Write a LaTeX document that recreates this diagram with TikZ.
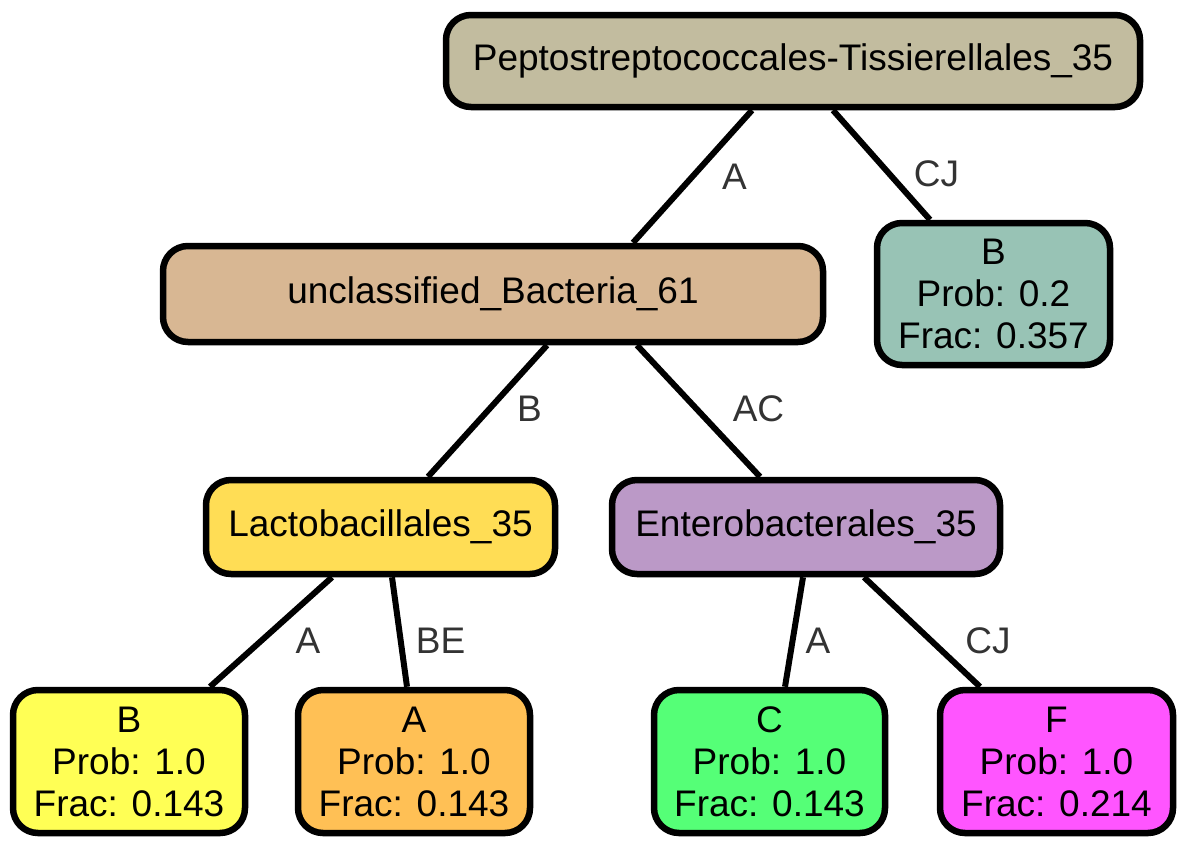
\documentclass[tikz,border=0pt]{standalone}
\usepackage{fontspec}
\setmainfont{Liberation Sans}
\usetikzlibrary{positioning}

\definecolor{rootfill}{HTML}{C2BC9F}
\definecolor{uncfill}{HTML}{D8B793}
\definecolor{cjfill}{HTML}{98C3B5}
\definecolor{lactofill}{HTML}{FFDD55}
\definecolor{enterofill}{HTML}{BB99C7}
\definecolor{bfill}{HTML}{FFFF55}
\definecolor{afill}{HTML}{FFC055}
\definecolor{cfill}{HTML}{55FF77}
\definecolor{ffill}{HTML}{FF55FF}
\definecolor{lblgray}{HTML}{333333}

\begin{document}
\begin{tikzpicture}[
    x=1pt, y=-1pt,
    font=\fontsize{37}{42}\selectfont,
    taxon/.style={rectangle, rounded corners=25pt, draw=black, line width=6.5pt, inner sep=0pt, minimum height=94pt, align=center},
    leaf/.style={rectangle, rounded corners=25pt, draw=black, line width=6.5pt, inner sep=0pt, minimum width=232pt, minimum height=143pt, align=center},
    edge/.style={line width=6pt},
    lbl/.style={text=lblgray, inner sep=0pt}
]
\useasboundingbox (0,0) rectangle (1186,846);

% Nodes
\node[taxon, fill=rootfill, minimum width=694pt, minimum height=92pt] (root) at (793,61) {Peptostreptococcales-Tissierellales\_35};
\node[taxon, fill=uncfill, minimum width=660pt, minimum height=96pt] (unclassified) at (493,294) {unclassified\_Bacteria\_61};
\node[leaf, fill=cjfill, minimum width=233pt, minimum height=142pt] (leafcj) at (993.5,294) {B\\Prob: 0.2\\Frac: 0.357};

\node[taxon, fill=lactofill, minimum width=349pt] (lacto) at (380.5,527) {Lactobacillales\_35};
\node[taxon, fill=enterofill, minimum width=388pt] (entero) at (806,527) {Enterobacterales\_35};

\node[leaf, fill=bfill] (leafb) at (129,761.5) {B\\Prob: 1.0\\Frac: 0.143};
\node[leaf, fill=afill] (leafa) at (414,761.5) {A\\Prob: 1.0\\Frac: 0.143};
\node[leaf, fill=cfill, minimum width=231pt] (leafc) at (769.5,761.5) {C\\Prob: 1.0\\Frac: 0.143};
\node[leaf, fill=ffill, minimum width=233pt] (leaff) at (1056.5,761.5) {F\\Prob: 1.0\\Frac: 0.214};

% Edges
\draw[edge] ([xshift=-41pt]root.south) -- node[lbl, midway, xshift=42pt] {A} ([xshift=140pt]unclassified.north);
\draw[edge] ([xshift=40pt]root.south) -- node[lbl, midway, xshift=55pt, yshift=-9pt] {CJ} ([xshift=-63.5pt]leafcj.north);

\draw[edge] ([xshift=54pt]unclassified.south) -- node[lbl, midway, xshift=42pt, yshift=2pt] {B} ([xshift=47.5pt]lacto.north);
\draw[edge] ([xshift=144pt]unclassified.south) -- node[lbl, midway, xshift=60pt, yshift=2pt] {AC} ([xshift=-46pt]entero.north);

\draw[edge] ([xshift=-48.5pt]lacto.south) -- node[lbl, midway, xshift=37pt, yshift=-9pt] {A} ([xshift=81pt]leafb.north);
\draw[edge] ([xshift=11.5pt]lacto.south) -- node[lbl, midway, xshift=41pt, yshift=-9pt] {BE} ([xshift=-7pt]leafa.north);

\draw[edge] ([xshift=-3pt]entero.south) -- node[lbl, midway, xshift=24pt, yshift=-9pt] {A} ([xshift=15.5pt]leafc.north);
\draw[edge] ([xshift=58pt]entero.south) -- node[lbl, midway, xshift=66pt, yshift=-9pt] {CJ} ([xshift=-76.5pt]leaff.north);

\end{tikzpicture}
\end{document}
